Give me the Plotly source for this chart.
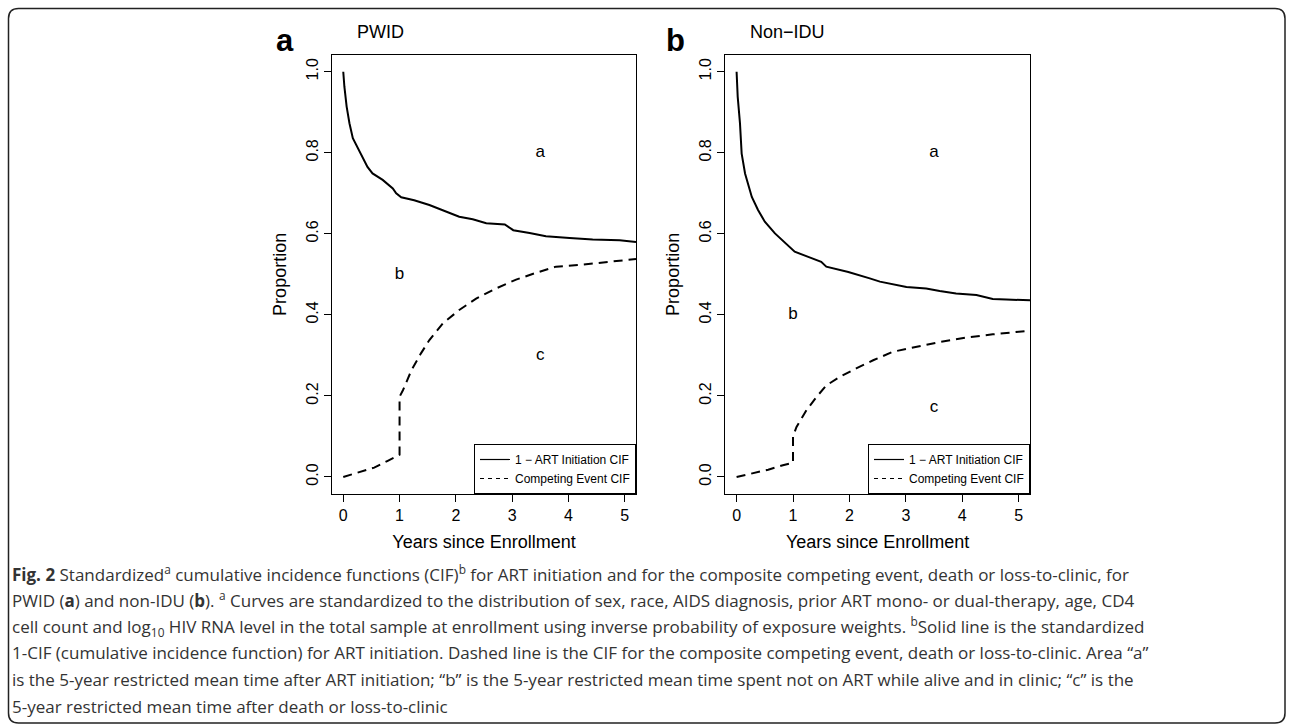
import plotly.graph_objects as go

# ---------------- data ----------------
pwid_art_t = [0, 0.02, 0.06, 0.11, 0.17, 0.26, 0.34, 0.43, 0.52, 0.70, 0.88, 0.94, 1.03, 1.26,
              1.53, 1.83, 2.06, 2.30, 2.54, 2.87, 3.02, 3.31, 3.60, 4.02, 4.43, 4.91, 5.2]
pwid_art_y = [1.0, 0.963, 0.914, 0.873, 0.836, 0.811, 0.786, 0.765, 0.749, 0.733, 0.712, 0.700,
              0.690, 0.683, 0.671, 0.654, 0.642, 0.636, 0.626, 0.623, 0.609, 0.602, 0.594, 0.590,
              0.586, 0.584, 0.580]
pwid_comp_t = [0, 0.05, 0.28, 0.55, 0.79, 1.0, 1.0, 1.06, 1.21, 1.38, 1.53, 1.77, 2.06, 2.36,
               2.71, 3.07, 3.43, 3.78, 4.26, 4.73, 5.09, 5.2]
pwid_comp_y = [0, 0.002, 0.011, 0.023, 0.040, 0.055, 0.198, 0.214, 0.263, 0.305, 0.338, 0.379,
               0.412, 0.440, 0.465, 0.487, 0.504, 0.519, 0.524, 0.531, 0.535, 0.538]

nonidu_art_t = [0, 0.02, 0.06, 0.09, 0.15, 0.27, 0.38, 0.50, 0.68, 0.85, 1.03, 1.27, 1.50, 1.59,
                1.98, 2.36, 2.54, 3.01, 3.36, 3.60, 3.89, 4.25, 4.54, 4.78, 5.2]
nonidu_art_y = [1.0, 0.938, 0.873, 0.798, 0.749, 0.691, 0.659, 0.630, 0.601, 0.580, 0.556, 0.543,
                0.531, 0.519, 0.506, 0.490, 0.482, 0.469, 0.465, 0.459, 0.453, 0.449, 0.439,
                0.438, 0.436]
nonidu_comp_t = [0, 0.03, 0.27, 0.56, 0.82, 1.0, 1.0, 1.06, 1.24, 1.42, 1.59, 1.83, 2.12, 2.42,
                 2.77, 3.19, 3.60, 4.07, 4.54, 5.13, 5.2]
nonidu_comp_y = [0, 0.001, 0.008, 0.018, 0.029, 0.035, 0.100, 0.123, 0.165, 0.198, 0.226, 0.247,
                 0.268, 0.288, 0.309, 0.321, 0.333, 0.344, 0.352, 0.360, 0.361]

region_labels = ["a", "b", "c"]
pwid_label_x = [3.5, 1.0, 3.5]
pwid_label_y = [0.8, 0.5, 0.3]
nonidu_label_x = [3.5, 1.0, 3.5]
nonidu_label_y = [0.8, 0.4, 0.17]

x_ticks = [0, 1, 2, 3, 4, 5]
y_ticks = [0.0, 0.2, 0.4, 0.6, 0.8, 1.0]
y_tick_text = ["0.0", "0.2", "0.4", "0.6", "0.8", "1.0"]

legend_names = ["1 \u2212 ART Initiation CIF", "Competing Event CIF"]
panel_titles = ["PWID", "Non\u2212IDU"]
panel_letters = ["a", "b"]

caption_lines = [
    "<b>Fig. 2</b> Standardized<sup>a</sup> cumulative incidence functions (CIF)<sup>b</sup> for ART initiation and for the composite competing event, death or loss-to-clinic, for",
    "PWID (<b>a</b>) and non-IDU (<b>b</b>). <sup>a</sup> Curves are standardized to the distribution of sex, race, AIDS diagnosis, prior ART mono- or dual-therapy, age, CD4",
    "cell count and log<sub>10</sub> HIV RNA level in the total sample at enrollment using inverse probability of exposure weights. <sup>b</sup>Solid line is the standardized",
    "1-CIF (cumulative incidence function) for ART initiation. Dashed line is the CIF for the composite competing event, death or loss-to-clinic. Area \u201ca\u201d",
    "is the 5-year restricted mean time after ART initiation; \u201cb\u201d is the 5-year restricted mean time spent not on ART while alive and in clinic; \u201cc\u201d is the",
    "5-year restricted mean time after death or loss-to-clinic",
]

# ---------------- layout helpers ----------------
W, H = 1292, 728
def px(x):
    return x / W
def py(y):
    return 1 - y / H

FONT = "Liberation Sans, Arial, sans-serif"
CAP_FONT = "Open Sans, Noto Sans, sans-serif"

plot_top, plot_bot = 54.7, 494
panels = [(332, 636), (725.3, 1030)]

fig = go.Figure()

dash = "9px,6px"
series = [
    (pwid_art_t, pwid_art_y, pwid_comp_t, pwid_comp_y, "x", "y", "legend"),
    (nonidu_art_t, nonidu_art_y, nonidu_comp_t, nonidu_comp_y, "x2", "y2", "legend2"),
]
for at, ay, ct, cy, xa, ya, lg in series:
    fig.add_trace(go.Scatter(x=at, y=ay, mode="lines", xaxis=xa, yaxis=ya,
                             line=dict(color="black", width=2), showlegend=False, hoverinfo="skip"))
    fig.add_trace(go.Scatter(x=ct, y=cy, mode="lines", xaxis=xa, yaxis=ya,
                             line=dict(color="black", width=2, dash=dash), showlegend=False,
                             hoverinfo="skip"))
    # legend-only entries (thin lines like R legend)
    fig.add_trace(go.Scatter(x=[None], y=[None], mode="lines", xaxis=xa, yaxis=ya,
                             name=legend_names[0], legend=lg,
                             line=dict(color="black", width=1.2)))
    fig.add_trace(go.Scatter(x=[None], y=[None], mode="lines", xaxis=xa, yaxis=ya,
                             name=legend_names[1], legend=lg,
                             line=dict(color="black", width=1.2, dash="4px,4px")))

for lx, ly, xa, ya in [(pwid_label_x, pwid_label_y, "x", "y"),
                       (nonidu_label_x, nonidu_label_y, "x2", "y2")]:
    fig.add_trace(go.Scatter(x=lx, y=ly, text=region_labels, mode="text", xaxis=xa, yaxis=ya,
                             textfont=dict(family=FONT, size=17, color="black"),
                             showlegend=False, hoverinfo="skip"))

axis_common = dict(
    showline=True, linecolor="black", linewidth=1, mirror=True,
    ticks="outside", ticklen=7, tickwidth=1, tickcolor="black",
    showgrid=False, zeroline=False,
    tickfont=dict(family=FONT, size=16, color="black"),
)

layout = dict(
    width=W, height=H, margin=dict(l=0, r=0, t=0, b=0),
    paper_bgcolor="white", plot_bgcolor="white",
    font=dict(family=FONT, color="black", size=16),
)
for i, (l, r) in enumerate(panels):
    sx = "" if i == 0 else "2"
    layout["xaxis" + sx] = dict(
        axis_common, domain=[px(l), px(r)], range=[-0.2, 5.2],
        tickvals=x_ticks, anchor="y" + sx,
        title=dict(text="Years since Enrollment", font=dict(family=FONT, size=18), standoff=12),
    )
    layout["yaxis" + sx] = dict(
        axis_common, domain=[py(plot_bot), py(plot_top)], range=[-0.042, 1.042],
        tickvals=y_ticks, ticktext=y_tick_text, tickangle=-90, anchor="x" + sx,
        title=dict(text="Proportion", font=dict(family=FONT, size=18), standoff=12),
    )
    lg = "legend" if i == 0 else "legend2"
    layout[lg] = dict(
        x=px(r), y=py(plot_bot), xanchor="right", yanchor="bottom",
        bgcolor="white", bordercolor="black", borderwidth=1,
        font=dict(family=FONT, size=12, color="black"),
        itemwidth=30, tracegroupgap=0,
    )
fig.update_layout(**layout)

annotations = []
letter_x = [285, 675]
title_x = [355, 748]
for i in range(2):
    annotations.append(dict(text="<b>" + panel_letters[i] + "</b>", x=px(letter_x[i]), y=py(60),
                            xref="paper", yref="paper", xanchor="center", yanchor="bottom",
                            showarrow=False, font=dict(family=FONT, size=31, color="black")))
    annotations.append(dict(text=panel_titles[i], x=px(title_x[i]), y=py(44), xref="paper",
                            yref="paper", xanchor="left", yanchor="bottom", showarrow=False,
                            font=dict(family=FONT, size=18, color="black")))

cap_y0, cap_dy = 573, 26.6
for k, line in enumerate(caption_lines):
    annotations.append(dict(text=line, x=px(10), y=py(cap_y0 + k * cap_dy), xref="paper",
                            yref="paper", xanchor="left", yanchor="middle", showarrow=False,
                            font=dict(family=CAP_FONT, size=17, color="#333333")))
fig.update_layout(annotations=annotations)

# outer rounded frame
L, T, R, B, rr = 8.5, 8.5, 1285, 723, 10
path = (f"M {px(L + rr)},{py(T)} L {px(R - rr)},{py(T)} Q {px(R)},{py(T)} {px(R)},{py(T + rr)} "
        f"L {px(R)},{py(B - rr)} Q {px(R)},{py(B)} {px(R - rr)},{py(B)} "
        f"L {px(L + rr)},{py(B)} Q {px(L)},{py(B)} {px(L)},{py(B - rr)} "
        f"L {px(L)},{py(T + rr)} Q {px(L)},{py(T)} {px(L + rr)},{py(T)} Z")
fig.add_shape(type="path", path=path, xref="paper", yref="paper",
              line=dict(color="#222222", width=1.5), layer="below")

fig.write_html("out.html", config={"displayModeBar": False})

# remove default page margin so the figure fills the window exactly
with open("out.html", "r", encoding="utf-8") as f:
    html = f.read()
html = html.replace("<head>", "<head><style>html,body{margin:0;padding:0;overflow:hidden;}</style>", 1)
with open("out.html", "w", encoding="utf-8") as f:
    f.write(html)
